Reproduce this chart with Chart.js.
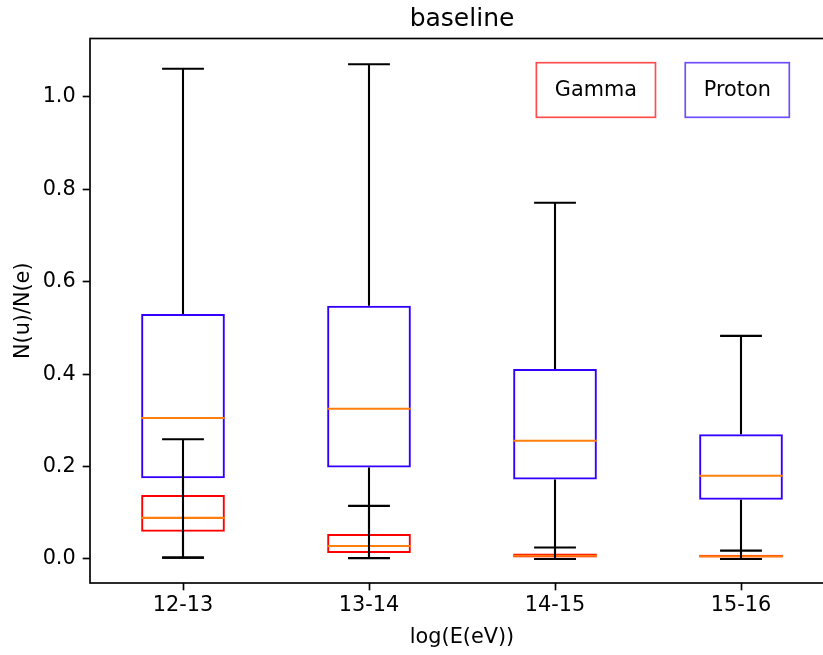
<!DOCTYPE html>
<html>
<head>
<meta charset="utf-8">
<script src="https://cdn.jsdelivr.net/npm/chart.js@4.4.1/dist/chart.umd.min.js"></script>
<style>
  html, body { margin: 0; padding: 0; background: #fff; overflow: hidden; }
</style>
</head>
<body>
<canvas id="myChart" width="834" height="655"></canvas>
<script>
const categories = ['12-13', '13-14', '14-15', '15-16'];
const yTicks = [0, 0.2, 0.4, 0.6, 0.8, 1.0];

// Gamma box stats per energy bin
const gammaLow = [0.003, 0.0015, 0.0, 0.0];
const gammaQ1 = [0.059, 0.013, 0.003, 0.003];
const gammaMedian = [0.089, 0.028, 0.007, 0.006];
const gammaQ3 = [0.1385, 0.054, 0.012, 0.009];
const gammaHigh = [0.259, 0.115, 0.025, 0.018];

// Proton box stats per energy bin
const protonLow = [0.003, 0.002, 0.0, 0.0];
const protonQ1 = [0.175, 0.198, 0.172, 0.128];
const protonMedian = [0.305, 0.325, 0.256, 0.180];
const protonQ3 = [0.530, 0.548, 0.411, 0.270];
const protonHigh = [1.061, 1.071, 0.771, 0.483];

const gammaColor = '#ff0000';
const protonColor = '#3300ff';
const medianColor = '#ff7f0e';

Chart.defaults.font.family = '"DejaVu Sans", sans-serif';
Chart.defaults.color = '#000';

const series = [
  { low: gammaLow, q1: gammaQ1, med: gammaMedian, q3: gammaQ3, high: gammaHigh },
  { low: protonLow, q1: protonQ1, med: protonMedian, q3: protonQ3, high: protonHigh }
];

// whiskers, caps, medians, frame and the two label boxes
const boxExtras = {
  id: 'boxExtras',
  afterDatasetsDraw(chart) {
    const { ctx, chartArea: a, scales: { x, y } } = chart;
    const catW = x.getPixelForValue(1) - x.getPixelForValue(0);
    const boxHalf = catW * 0.225;
    const capHalf = catW * 0.1125;
    ctx.save();
    ctx.lineWidth = 2.08;
    series.forEach(s => {
      categories.forEach((c, i) => {
        const px = x.getPixelForValue(i);
        const yLow = y.getPixelForValue(s.low[i]);
        const yHigh = y.getPixelForValue(s.high[i]);
        ctx.strokeStyle = '#000';
        ctx.beginPath();
        ctx.moveTo(px, y.getPixelForValue(s.q3[i]));
        ctx.lineTo(px, yHigh);
        ctx.moveTo(px, y.getPixelForValue(s.q1[i]));
        ctx.lineTo(px, yLow);
        ctx.moveTo(px - capHalf, yHigh);
        ctx.lineTo(px + capHalf, yHigh);
        ctx.moveTo(px - capHalf, yLow);
        ctx.lineTo(px + capHalf, yLow);
        ctx.stroke();
        const ym = y.getPixelForValue(s.med[i]);
        ctx.strokeStyle = medianColor;
        ctx.beginPath();
        ctx.moveTo(px - boxHalf, ym);
        ctx.lineTo(px + boxHalf, ym);
        ctx.stroke();
      });
    });

    ctx.strokeStyle = '#000';
    ctx.lineWidth = 1.67;
    ctx.strokeRect(a.left, a.top, a.width, a.height);

    ctx.font = '20.8px "DejaVu Sans"';
    ctx.textAlign = 'center';
    ctx.textBaseline = 'alphabetic';
    const cy = a.top + a.height * 0.0946;
    [['Gamma', 0.68, 'rgba(255,0,0,0.7)'], ['Proton', 0.87, 'rgba(51,0,255,0.7)']].forEach(([t, fx, col]) => {
      const cx = a.left + a.width * fx;
      const w = ctx.measureText(t).width;
      ctx.strokeStyle = col;
      ctx.strokeRect(cx - w / 2 - 18.5, cy - 27.3, w + 37, 54.6);
      ctx.fillStyle = '#000';
      ctx.fillText(t, cx, cy + 6.2);
    });
    ctx.restore();
  }
};

const ctx = document.getElementById('myChart').getContext('2d');
new Chart(ctx, {
  type: 'bar',
  data: {
    labels: categories,
    datasets: [
      {
        label: 'Gamma',
        data: gammaQ1.map((v, i) => [v, gammaQ3[i]]),
        backgroundColor: 'rgba(0,0,0,0)',
        borderColor: gammaColor,
        borderWidth: 2,
        borderSkipped: false,
        grouped: false,
        barPercentage: 0.45,
        categoryPercentage: 1
      },
      {
        label: 'Proton',
        data: protonQ1.map((v, i) => [v, protonQ3[i]]),
        backgroundColor: 'rgba(0,0,0,0)',
        borderColor: protonColor,
        borderWidth: 2,
        borderSkipped: false,
        grouped: false,
        barPercentage: 0.45,
        categoryPercentage: 1
      }
    ]
  },
  options: {
    responsive: false,
    animation: false,
    layout: { padding: 0 },
    plugins: {
      legend: { display: false },
      title: {
        display: true,
        text: 'baseline',
        fullSize: false,
        font: { size: 25, weight: 'normal' },
        padding: { top: 4, bottom: 4.5 }
      }
    },
    scales: {
      x: {
        offset: true,
        afterFit: s => { s.height = 72; },
        grid: { drawOnChartArea: false, offset: false, tickLength: 7.3, tickWidth: 1.67, tickColor: '#000' },
        border: { display: false },
        ticks: { font: { size: 20.8 }, padding: 3, color: '#000' },
        title: { display: true, text: 'log(E(eV))', font: { size: 20.8 }, padding: { bottom: 4.5 } }
      },
      y: {
        min: -0.052,
        max: 1.1266,
        afterFit: s => { s.width = 90; },
        afterBuildTicks: s => { s.ticks = yTicks.map(v => ({ value: v })); },
        grid: { drawOnChartArea: false, tickLength: 7.3, tickWidth: 1.67, tickColor: '#000' },
        border: { display: false },
        ticks: { font: { size: 20.8 }, padding: 7, color: '#000', callback: v => v.toFixed(1) },
        title: { display: true, text: 'N(u)/N(e)', font: { size: 20.8 }, padding: { top: 11 } }
      }
    }
  },
  plugins: [boxExtras]
});
</script>
</body>
</html>
